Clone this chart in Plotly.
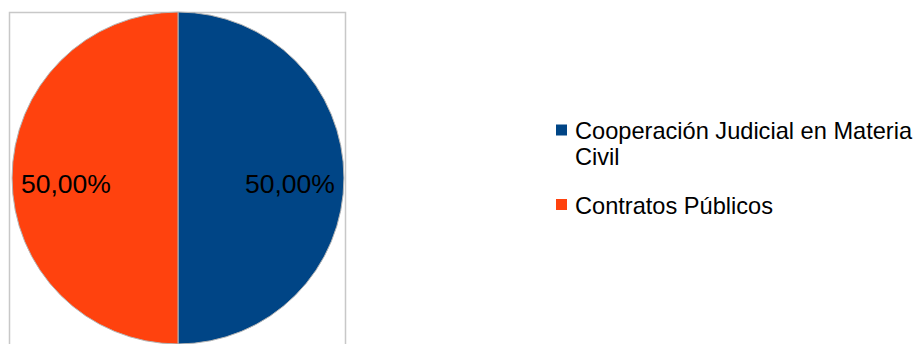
import math
import plotly.graph_objects as go

# Slice categories, shares and colours
labels = ["Cooperación Judicial en Materia<br>Civil", "Contratos Públicos"]
values = [50, 50]
colors = ["#004586", "#ff420e"]

W, H = 920, 344
FONT = "Liberation Sans, Arial, sans-serif"

# Pie geometry in pixels (centre and radius)
CX, CY, R = 178, 178, 166

fig = go.Figure()
fig.add_trace(go.Pie(
    labels=labels,
    values=values,
    sort=False,
    direction="clockwise",
    rotation=0,
    marker=dict(colors=colors, line=dict(color="#b4b4b4", width=1)),
    textinfo="none",
    domain=dict(x=[(CX - R) / W, (CX + R) / W], y=[(H - CY - R) / H, (H - CY + R) / H]),
    showlegend=False,
    hoverinfo="label+percent",
))

def px(x):
    return x / W

def py(y):
    return (H - y) / H

annotations = []
shapes = []

# Percentage labels, placed along each slice's bisector near the rim
total = sum(values)
start = 0.0
for v in values:
    frac = v / total
    mid = (start + frac / 2) * 2 * math.pi
    start += frac
    lx = CX + 0.675 * R * math.sin(mid)
    ly = CY - 0.675 * R * math.cos(mid) + 6
    annotations.append(dict(
        x=px(lx), y=py(ly), xref="paper", yref="paper",
        text=f"{frac * 100:.2f}%".replace(".", ","),
        showarrow=False, xanchor="center", yanchor="middle",
        font=dict(family=FONT, size=26.5, color="#000000"),
    ))

# Legend: a colour square and label lines for each category
row_y = 130
for lab, col in zip(labels, colors):
    shapes.append(dict(
        type="rect", xref="paper", yref="paper",
        x0=px(556), x1=px(567), y0=py(row_y + 5.5), y1=py(row_y - 5.5),
        fillcolor=col, line=dict(width=0),
    ))
    lines = lab.split("<br>")
    for i, line in enumerate(lines):
        annotations.append(dict(
            x=px(573), y=py(row_y + 1 + i * 25.5), xref="paper", yref="paper",
            text=line, showarrow=False, xanchor="left", yanchor="middle",
            font=dict(family=FONT, size=23.6, color="#000000"),
        ))
    row_y += 25.5 * (len(lines) - 1) + 49

# Light frame around the pie area (bottom edge lies below the page)
shapes.append(dict(
    type="rect", xref="paper", yref="paper",
    x0=px(9.5), x1=px(345.5), y0=-0.2, y1=py(12.5),
    line=dict(color="#c8c8c8", width=1.5), layer="below",
))

fig.update_layout(
    width=W, height=H,
    margin=dict(l=0, r=0, t=0, b=0),
    paper_bgcolor="white",
    plot_bgcolor="white",
    showlegend=False,
    annotations=annotations,
    shapes=shapes,
)

fig.write_html("out.html")
